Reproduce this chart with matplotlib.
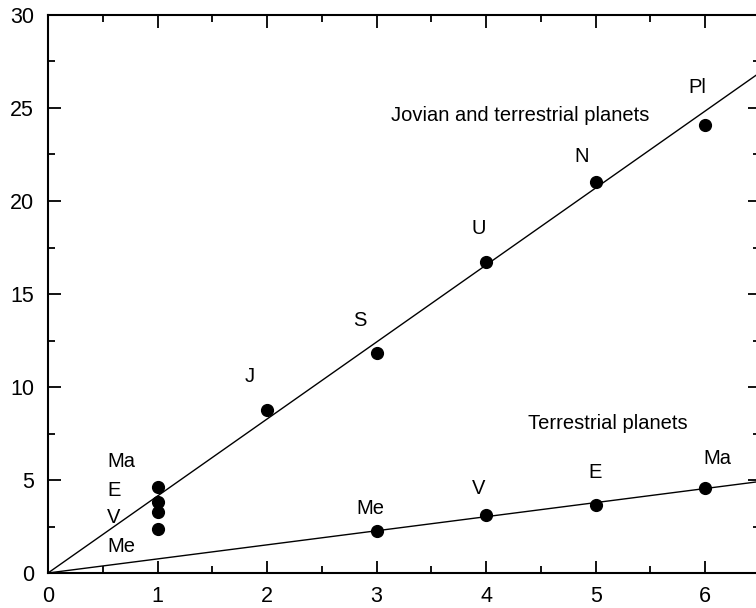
import matplotlib
matplotlib.use("Agg")
import matplotlib.pyplot as plt
from matplotlib.ticker import MultipleLocator

plt.rcParams['font.family'] = ['Liberation Sans', 'DejaVu Sans']

# Jovian and terrestrial planets series
jov_x = [1, 1, 1, 1, 2, 3, 4, 5, 6]
jov_y = [4.62, 3.82, 3.28, 2.37, 8.76, 11.83, 16.72, 21.02, 24.09]
jov_labels = ["Ma", "E", "V", "Me", "J", "S", "U", "N", "Pl"]
jov_label_x = [0.54, 0.54, 0.54, 0.54, 1.84, 2.85, 3.93, 4.87, 5.93]
jov_label_y = [5.97, 4.46, 3.01, 1.40, 10.54, 13.60, 18.5, 22.37, 26.08]
jov_label_ha = ["left", "left", "left", "left", "center", "center", "center", "center", "center"]
jov_slope = 4.14

# Terrestrial planets series
ter_x = [3, 4, 5, 6]
ter_y = [2.26, 3.12, 3.66, 4.57]
ter_labels = ["Me", "V", "E", "Ma"]
ter_label_x = [2.94, 3.93, 4.99, 6.11]
ter_label_y = [3.49, 4.52, 5.38, 6.18]
ter_slope = 0.757

fig = plt.figure(figsize=(7.56, 6.08), dpi=100)
ax = fig.add_axes([48/756, 35/608, 712/756, 558/608])
xmax = 6.5
ax.set_xlim(0, xmax)
ax.set_ylim(0, 30)

ax.plot([0, xmax], [0, jov_slope*xmax], color='black', lw=1.0)
ax.plot([0, xmax], [0, ter_slope*xmax], color='black', lw=1.0)
ax.scatter(jov_x, jov_y, s=72, color='black', zorder=3)
ax.scatter(ter_x, ter_y, s=72, color='black', zorder=3)

for t, x, y, ha in zip(jov_labels, jov_label_x, jov_label_y, jov_label_ha):
    ax.text(x, y, t, ha=ha, va='center', fontsize=14.5)
for t, x, y in zip(ter_labels, ter_label_x, ter_label_y):
    ax.text(x, y, t, ha='center', va='center', fontsize=14.5)

ax.text(4.31, 24.6, "Jovian and terrestrial planets", ha='center', va='center', fontsize=14.5)
ax.text(5.11, 8.06, "Terrestrial planets", ha='center', va='center', fontsize=14.5)

ax.xaxis.set_major_locator(MultipleLocator(1))
ax.xaxis.set_minor_locator(MultipleLocator(0.5))
ax.yaxis.set_major_locator(MultipleLocator(5))
ax.yaxis.set_minor_locator(MultipleLocator(2.5))
ax.tick_params(which='both', direction='in', top=True, right=True, width=1.3)
ax.tick_params(which='major', length=9, labelsize=15.5)
ax.tick_params(axis='x', which='major', pad=9)
ax.tick_params(axis='y', which='major', pad=10)
ax.tick_params(which='minor', length=5)
for s in ax.spines.values():
    s.set_linewidth(1.5)

fig.savefig("out.png", dpi=100)
